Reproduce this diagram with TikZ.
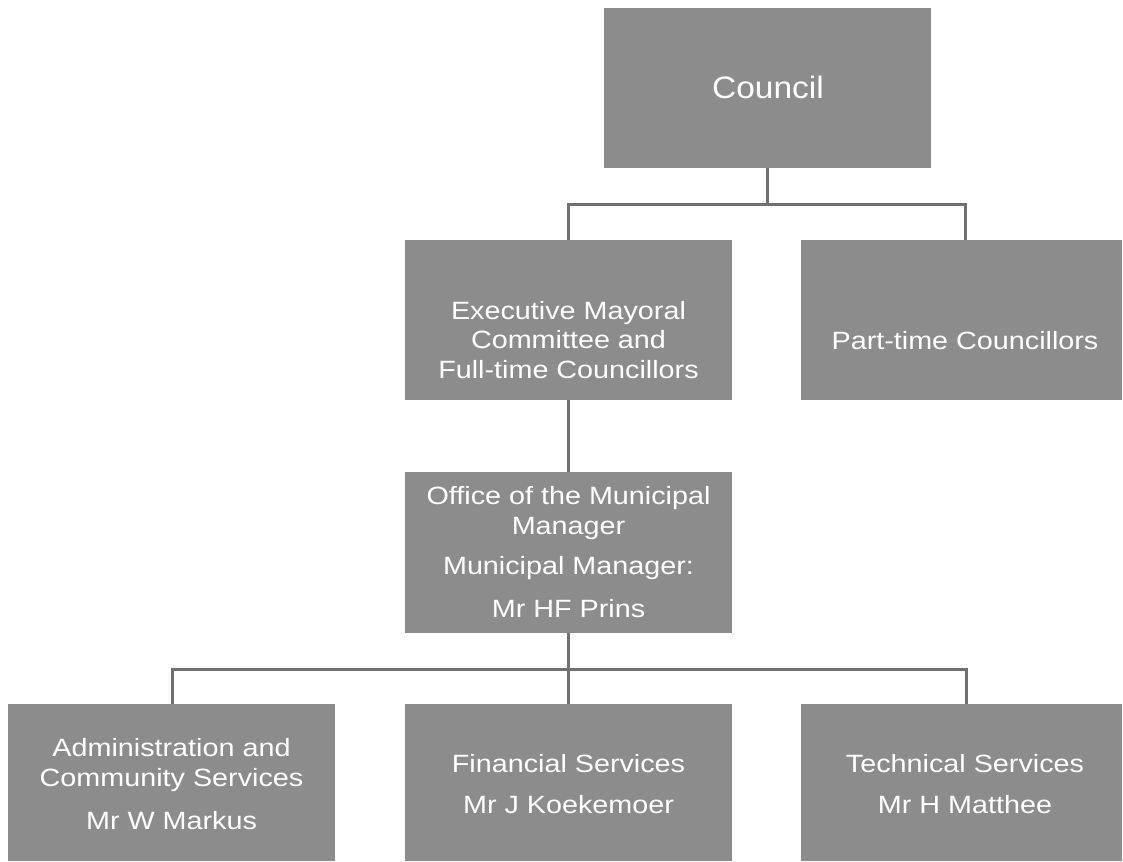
\documentclass[tikz,border=0pt]{standalone}
\usepackage{fontspec}
\setmainfont{Liberation Sans}[FakeStretch=1.15]
\newfontfamily\councilfont{Liberation Sans}[FakeStretch=1.08]
\definecolor{boxgray}{HTML}{8C8C8C}
\definecolor{linegray}{HTML}{707070}
\begin{document}
\begin{tikzpicture}[x=1pt,y=-1pt,
  orgbox/.style={draw=none,fill=boxgray,minimum width=327pt,minimum height=160pt,inner sep=0pt},
  orgtext/.style={text=white,align=center,font=\fontsize{25}{29.5}\selectfont,inner sep=0pt},
  conn/.style={draw=linegray,line width=3pt}]
\useasboundingbox (0,0) rectangle (1123,861);
% boxes
\node[orgbox] (council) at (767,88) {};
\node[orgbox] (exec) at (568.5,320) {};
\node[orgbox,minimum width=321pt] (part) at (961.5,320) {};
\node[orgbox,minimum height=161pt] (office) at (568.5,552.5) {};
\node[orgbox,minimum height=157pt] (admin) at (171.5,782.5) {};
\node[orgbox,minimum height=157pt] (fin) at (568.5,782.5) {};
\node[orgbox,minimum width=321pt,minimum height=157pt] (tech) at (961.5,782.5) {};
% texts
\node[orgtext,font=\councilfont\fontsize{31}{36}\selectfont] (councilt) at (768,87) {Council};
\node[orgtext] (exect) at (568.5,340) {Executive Mayoral\\Committee and\\Full-time Councillors};
\node[orgtext] (partt) at (965,341) {Part-time Councillors};
\node[orgtext] (officet) at (568.5,552) {Office of the Municipal\\Manager\\[10.5pt]Municipal Manager:\\[13.5pt]Mr HF Prins};
\node[orgtext] (admint) at (171.5,784) {Administration and\\Community Services\\[13.5pt]Mr W Markus};
\node[orgtext] (fint) at (568.5,784) {Financial Services\\[11.5pt]Mr J Koekemoer};
\node[orgtext] (techt) at (965,784) {Technical Services\\[11.5pt]Mr H Matthee};
% connectors
\coordinate (j1) at (767,204);
\coordinate (j2) at (569,669);
\draw[conn] (council.south) -- (j1);
\draw[conn] (j1) -| (exec.north);
\draw[conn] (j1) -| ([xshift=3.5pt]part.north);
\draw[conn] (exec.south) -- (office.north);
\draw[conn] (office.south) -- (fin.north);
\draw[conn] (j2) -| ([xshift=0.5pt]admin.north);
\draw[conn] (j2) -| ([xshift=4.5pt]tech.north);
\end{tikzpicture}
\end{document}
